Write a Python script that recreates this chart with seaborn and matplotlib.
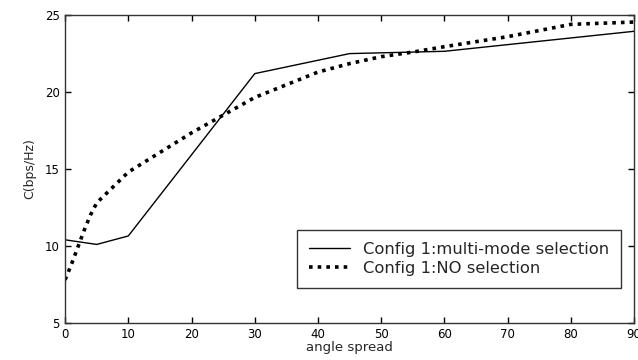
import pandas as pd
import numpy as np
import seaborn as sns
import matplotlib
matplotlib.use("Agg")
import matplotlib.pyplot as plt

# values
angle_multi = [0, 5, 10, 30, 45, 60, 90]
cap_multi = [10.4, 10.1, 10.65, 21.2, 22.5, 22.65, 23.95]

angle_nosel = [0, 1, 2, 3, 4, 5, 10, 20, 25, 30, 40, 45, 50, 55, 60, 70, 75, 80, 90]
cap_nosel = [7.8, 8.8, 9.9, 11.0, 12.0, 12.8, 14.8, 17.35, 18.5, 19.65, 21.3, 21.85,
             22.3, 22.6, 22.95, 23.6, 24.0, 24.4, 24.55]

label_multi = "Config 1:multi-mode selection"
label_nosel = "Config 1:NO selection"

df = pd.concat([
    pd.DataFrame({"angle": angle_multi, "cap": cap_multi, "series": label_multi}),
    pd.DataFrame({"angle": angle_nosel, "cap": cap_nosel, "series": label_nosel}),
])

sns.set_style("ticks")
plt.rcParams["font.family"] = ["DejaVu Sans"]

fig = plt.figure(figsize=(6.38, 3.6), dpi=100)
ax = fig.add_axes([0.102, 0.103, 0.892, 0.855])

sns.lineplot(data=df, x="angle", y="cap", hue="series", style="series",
             palette=["black", "black"], dashes=["", (1, 1.4)],
             sort=False, ax=ax, legend=True)
for line, lw in zip(ax.lines, [1.0, 2.6]):
    line.set_linewidth(lw)

ax.set_xlim(0, 90)
ax.set_ylim(5, 25)
ax.set_xticks(range(0, 91, 10))
ax.set_yticks(range(5, 26, 5))
ax.tick_params(direction="in", top=True, right=True, length=4, width=1,
               labelsize=8.5, colors="black", pad=4)
for s in ax.spines.values():
    s.set_visible(True)
    s.set_linewidth(1.0)
    s.set_color("#333333")

ax.set_xlabel("angle spread", fontsize=9.5, labelpad=0)
ax.set_ylabel("C(bps/Hz)", fontsize=9, labelpad=6)

handles, labels = ax.get_legend_handles_labels()
for h, lw in zip(handles, [1.0, 2.6]):
    h.set_linewidth(lw)
leg = ax.legend(handles, labels, loc="lower right", bbox_to_anchor=(0.976, 0.115),
                fontsize=11.8, frameon=True, fancybox=False, handlelength=2.5,
                handletextpad=0.8, borderpad=0.7, labelspacing=0.25,
                borderaxespad=0)
leg.get_frame().set_edgecolor("black")
leg.get_frame().set_linewidth(1.0)

fig.savefig("out.png", dpi=100)
